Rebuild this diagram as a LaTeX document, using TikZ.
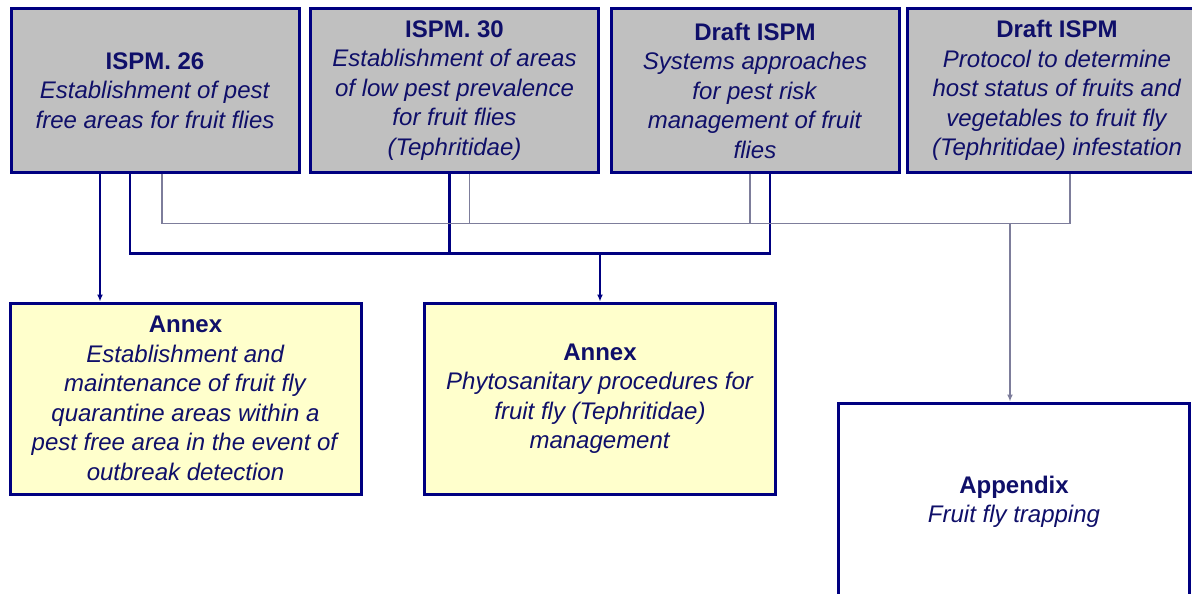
\documentclass[tikz,border=0pt]{standalone}
\usepackage{fontspec}
\setmainfont{Liberation Sans}
\usetikzlibrary{arrows.meta}

\definecolor{boxnavy}{RGB}{0,0,128}
\definecolor{textnavy}{RGB}{15,15,105}
\definecolor{boxgray}{RGB}{192,192,192}
\definecolor{boxyellow}{RGB}{255,255,204}
\definecolor{linkgray}{RGB}{125,125,155}

\tikzset{
  docbox/.style={draw=boxnavy,line width=3pt,text=textnavy,align=center,
    inner sep=0pt,font=\fontsize{24}{29.5}\selectfont},
  ispmbox/.style={docbox,fill=boxgray,minimum width=288pt,minimum height=163pt},
  annexbox/.style={docbox,fill=boxyellow,minimum width=351pt,minimum height=191pt},
  mainlink/.style={boxnavy,line width=2.8pt},
  sidelink/.style={linkgray,line width=1.4pt},
  tip/.style={-{Latex[length=7pt,width=6pt]}}
}

\begin{document}
\begin{tikzpicture}[x=1pt,y=-1pt]
\useasboundingbox (0,0) rectangle (1192,594);

% The standards
\node[ispmbox] (ispm26) at (155,90.5) {\textbf{ISPM. 26}\\ \textit{Establishment of pest}\\ \textit{free areas for fruit flies}};
\node[ispmbox] (ispm30) at (454.5,90.5) {\textbf{ISPM. 30}\\ \textit{Establishment of areas}\\ \textit{of low pest prevalence}\\ \textit{for fruit flies}\\ \textit{(Tephritidae)}};
\node[ispmbox] (draftsys) at (755,90.5) {\textbf{Draft ISPM}\\ \textit{Systems approaches}\\ \textit{for pest risk}\\ \textit{management of fruit}\\ \textit{flies}};
\node[ispmbox,minimum width=300pt] (drafthost) at (1057,90.5) {\textbf{Draft ISPM}\\ \textit{Protocol to determine}\\ \textit{host status of fruits and}\\ \textit{vegetables to fruit fly}\\ \textit{(Tephritidae) infestation}};

% Annexes and appendix
\node[annexbox] (annexpfa) at (185.5,398.5) {\textbf{Annex}\\ \textit{Establishment and}\\ \textit{maintenance of fruit fly}\\ \textit{quarantine areas within a}\\ \textit{pest free area in the event of}\\ \textit{outbreak detection}};
\node[annexbox] (annexproc) at (600,398.5) {\textbf{Annex}\\ \textit{Phytosanitary procedures for}\\ \textit{fruit fly (Tephritidae)}\\ \textit{management}};
\node[docbox,fill=white,minimum width=351pt,minimum height=222pt] (apptrap) at (1014,514) {\textbf{Appendix}\\ \textit{Fruit fly trapping}\\ \mbox{}};

% Thick links
\draw[mainlink,tip] ([xshift=-55pt]ispm26.south) -- ([xshift=-55pt]ispm26.south |- annexpfa.north);
\draw[mainlink] ([xshift=-25pt]ispm26.south) -- ++(0,80) coordinate (mainbus) -| ([xshift=15pt]draftsys.south);
\draw[mainlink] ([xshift=-5pt]ispm30.south) -- ([xshift=-5pt]ispm30.south |- mainbus);
\draw[mainlink,tip] (annexproc.north |- mainbus) -- (annexproc.north);

% Thin links
\draw[sidelink] ([xshift=7pt]ispm26.south) -- ++(0,50) coordinate (sidebus) -| ([xshift=13pt]drafthost.south);
\draw[sidelink] ([xshift=15pt]ispm30.south) -- ([xshift=15pt]ispm30.south |- sidebus);
\draw[sidelink] ([xshift=-5pt]draftsys.south) -- ([xshift=-5pt]draftsys.south |- sidebus);
\draw[sidelink,tip] ([xshift=-4pt]apptrap.north |- sidebus) -- ([xshift=-4pt]apptrap.north);

\end{tikzpicture}
\end{document}
